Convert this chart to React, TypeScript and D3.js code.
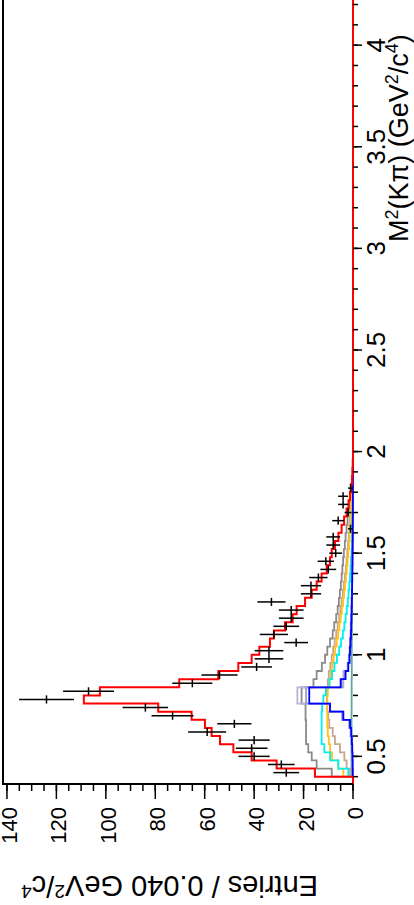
import React from "react";
import * as d3 from "d3";

// Binning of the M^2(K pi) histogram
const M2_LOW = 0.4;
const BIN_W = 0.04;
const N_BINS = 40;

// Data (entries per bin) and their error bars
const dataCounts = [27, 29, 40, 41, 40, 59, 48, 73, 84, 124, 107, 65, 54, 39, 34, 34, 23, 32, 27, 25, 25, 33, 17, 17, 14, 10, 11, 7, 8, 8, 1, 6, 2, 4, 4, 1];
const dataErrors = [5.2, 5.4, 6.3, 6.4, 6.3, 7.7, 6.9, 8.5, 9.2, 11.1, 10.3, 8.1, 7.3, 6.2, 5.8, 5.8, 4.8, 5.7, 5.2, 5.0, 5.0, 5.7, 4.1, 4.1, 3.7, 3.2, 3.3, 2.6, 2.8, 2.8, 1.0, 2.4, 1.4, 2.0, 2.0, 1.0];

// Total fit (red)
const fitTotal = [15.4, 30.9, 41.0, 48.4, 53.8, 57.2, 59.9, 65.3, 78.8, 108.9, 102.4, 70.3, 54.5, 46.4, 41.0, 37.9, 33.6, 32.0, 27.5, 24.4, 22.8, 19.4, 16.7, 14.7, 12.7, 10.6, 9.3, 8.6, 7.3, 5.9, 4.6, 3.6, 2.6, 1.8, 1.2, 0.7, 0.35, 0.15, 0.05, 0.0];

// Fit components
const compGray = [8.6, 14.7, 16.7, 18.1, 19.0, 19.0, 19.0, 19.2, 19.2, 20.8, 20.8, 16.0, 14.7, 12.6, 11.3, 10.4, 9.3, 8.2, 7.6, 6.8, 6.2, 5.7, 5.3, 4.9, 4.6, 4.3, 4.0, 3.7, 3.3, 3.0, 2.6, 2.2, 1.8, 1.5, 1.1, 0.8, 0.5, 0.3, 0.1, 0.0];
const compTan = [1.2, 2.6, 3.5, 5.3, 7.3, 8.2, 9.6, 10.0, 10.4, 10.6, 10.6, 10.2, 9.8, 9.2, 8.6, 8.0, 7.4, 6.8, 6.2, 5.6, 5.1, 4.6, 4.1, 3.7, 3.3, 2.9, 2.6, 2.3, 2.0, 1.7, 1.4, 1.2, 1.0, 0.8, 0.6, 0.4, 0.3, 0.2, 0.1, 0.0];
const compOrange = [3.9, 6.0, 8.5, 9.3, 9.8, 10.2, 10.4, 10.4, 10.4, 10.4, 10.2, 9.6, 9.0, 8.4, 7.8, 7.2, 6.6, 6.0, 5.5, 5.0, 4.5, 4.0, 3.6, 3.2, 2.8, 2.5, 2.2, 1.9, 1.6, 1.4, 1.2, 1.0, 0.8, 0.6, 0.5, 0.35, 0.25, 0.15, 0.05, 0.0];
const compCyan = [1.9, 5.9, 9.3, 11.6, 12.7, 12.7, 12.7, 12.7, 12.5, 12.0, 11.0, 9.5, 8.5, 7.5, 6.5, 5.6, 4.8, 4.1, 3.5, 3.0, 2.5, 2.1, 1.8, 1.5, 1.2, 1.0, 0.8, 0.6, 0.5, 0.4, 0.3, 0.2, 0.15, 0.1, 0.05, 0.03, 0.02, 0.01, 0.0, 0.0];
const compBlue = [0.1, 0.15, 0.2, 0.3, 0.45, 0.7, 1.2, 3.9, 9.3, 17.7, 17.7, 5.0, 3.0, 1.9, 1.4, 1.2, 1.0, 0.8, 0.7, 0.6, 0.5, 0.45, 0.4, 0.35, 0.3, 0.25, 0.2, 0.2, 0.15, 0.1, 0.1, 0.08, 0.06, 0.05, 0.04, 0.03, 0.02, 0.01, 0.01, 0.0];
const compLavA = [0.2, 0.3, 0.4, 0.5, 0.7, 1.0, 1.6, 4.5, 9.3, 22.5, 22.5, 3.9, 3.9, 2.2, 1.7, 1.4, 1.2, 1.0, 0.9, 0.8, 0.7, 0.6, 0.5, 0.45, 0.4, 0.35, 0.3, 0.25, 0.2, 0.15, 0.12, 0.1, 0.08, 0.06, 0.05, 0.04, 0.03, 0.02, 0.01, 0.0];
const compLavB = [0.15, 0.2, 0.3, 0.4, 0.6, 0.85, 1.4, 4.2, 9.3, 19.0, 19.0, 4.5, 3.4, 2.0, 1.5, 1.3, 1.1, 0.9, 0.8, 0.7, 0.6, 0.5, 0.45, 0.4, 0.35, 0.3, 0.25, 0.2, 0.18, 0.12, 0.1, 0.09, 0.07, 0.05, 0.04, 0.03, 0.02, 0.01, 0.01, 0.0];
const compTeal = [0.6, 0.6, 0.6, 0.6, 0.6, 0.6, 0.6, 0.6, 0.55, 0.55, 0.55, 0.55, 0.5, 0.5, 0.5, 0.5, 0.5, 0.45, 0.45, 0.45, 0.4, 0.4, 0.4, 0.4, 0.35, 0.35, 0.35, 0.3, 0.3, 0.3, 0.25, 0.25, 0.2, 0.2, 0.15, 0.15, 0.1, 0.1, 0.05, 0.0];

// Axis ticks
const m2MajorTicks = [0.5, 1, 1.5, 2, 2.5, 3, 3.5, 4];
const m2TickLabels = ["0.5", "1", "1.5", "2", "2.5", "3", "3.5", "4"];
const entryMajorTicks = [0, 20, 40, 60, 80, 100, 120, 140];
const entryTickLabels = ["0", "20", "40", "60", "80", "100", "120", "140"];

const FONT = "'Liberation Sans', Arial, Helvetica, sans-serif";

export default function App() {
  const W = 414;
  const H = 905;
  const M2_MIN = 0.364;
  const M2_MAX = 4.3;
  const Y_MAX = 141.6;

  // M^2 runs up the page, entries run leftwards (rotated ROOT canvas)
  const yM2 = d3.scaleLinear().domain([M2_MIN, M2_MAX]).range([784, 784 - (M2_MAX - M2_MIN) * 203.2]);
  const xN = d3.scaleLinear().domain([0, Y_MAX]).range([353, 3]);

  const edges = d3.range(N_BINS + 1).map((k) => M2_LOW + k * BIN_W);
  const line = d3.line();

  const histPath = (vals: number[], extend: boolean) => {
    const pts: [number, number][] = [];
    if (extend) pts.push([xN(0), yM2(M2_MIN)]);
    pts.push([xN(0), yM2(edges[0])]);
    vals.forEach((v, k) => {
      pts.push([xN(v), yM2(edges[k])]);
      pts.push([xN(v), yM2(edges[k + 1])]);
    });
    pts.push([xN(0), yM2(edges[vals.length])]);
    if (extend) pts.push([xN(0), yM2(M2_MAX)]);
    return line(pts) || "";
  };

  const m2Minor = d3.range(4, 43).map((k) => k / 10);
  const entryMinor = d3.range(0, 29).map((k) => k * 5);

  const components: [number[], string][] = [
    [compTeal, "#5fa8a0"],
    [compGray, "#8a8a8a"],
    [compTan, "#c9a48e"],
    [compOrange, "#ffc21a"],
    [compCyan, "#00f0f0"],
    [compLavA, "#b4b4dc"],
    [compLavB, "#9c9ccc"],
    [compBlue, "#0000ff"],
  ];

  const axisY = 784;
  const axisX = 353;

  return (
    <svg width={W} height={H} style={{ position: "absolute", left: 0, top: 0, background: "#fff" }} fontFamily={FONT}>
      <rect x={0} y={0} width={W} height={H} fill="#fff" />
      {/* components */}
      {components.map(([vals, col], i) => (
        <path key={i} d={histPath(vals, false)} fill="none" stroke={col} strokeWidth={1.8} />
      ))}
      {/* total fit */}
      <path d={histPath(fitTotal, true)} fill="none" stroke="#ff0000" strokeWidth={2} />

      {/* data points */}
      {dataCounts.map((n, k) => {
        const yc = yM2(edges[k] + BIN_W / 2);
        return (
          <g key={k} stroke="#000" strokeWidth={1.5}>
            <line x1={xN(n - dataErrors[k])} x2={xN(n + dataErrors[k])} y1={yc} y2={yc} />
            <line x1={xN(n)} x2={xN(n)} y1={yM2(edges[k])} y2={yM2(edges[k + 1])} />
          </g>
        );
      })}

      {/* frame */}
      <line x1={3} x2={3} y1={-5} y2={axisY} stroke="#000" strokeWidth={2} />
      <line x1={2} x2={axisX} y1={axisY} y2={axisY} stroke="#000" strokeWidth={2} />

      {/* M2 axis ticks */}
      {m2Minor.map((t, i) => (
        <line key={"mm" + i} x1={axisX} x2={axisX + 5} y1={yM2(t)} y2={yM2(t)} stroke="#000" strokeWidth={1.5} />
      ))}
      {m2MajorTicks.map((t, i) => (
        <g key={"mM" + i}>
          <line x1={axisX} x2={axisX + 9} y1={yM2(t)} y2={yM2(t)} stroke="#000" strokeWidth={1.5} />
          <text transform={`translate(385,${yM2(t)}) rotate(-90)`} textAnchor="middle" fontSize={26} fill="#000">
            {m2TickLabels[i]}
          </text>
        </g>
      ))}

      {/* entries axis ticks */}
      {entryMinor.map((t, i) => (
        <line key={"em" + i} x1={xN(t)} x2={xN(t)} y1={axisY} y2={axisY + 7} stroke="#000" strokeWidth={1.5} />
      ))}
      {entryMajorTicks.map((t, i) => (
        <g key={"eM" + i}>
          <line x1={xN(t)} x2={xN(t)} y1={axisY} y2={axisY + 15} stroke="#000" strokeWidth={1.5} />
          <text transform={`translate(${xN(t) + 10},807) rotate(-90)`} textAnchor="end" fontSize={22} fill="#000">
            {entryTickLabels[i]}
          </text>
        </g>
      ))}

      {/* axis titles */}
      <text transform="translate(408,242) rotate(-90)" textAnchor="start" fontSize={27} fill="#000">
        M<tspan dy={-10} fontSize={18}>2</tspan>
        <tspan dy={10}>(Kπ) (GeV</tspan>
        <tspan dy={-10} fontSize={18}>2</tspan>
        <tspan dy={10}>/c</tspan>
        <tspan dy={-10} fontSize={18}>4</tspan>
        <tspan dy={10}>)</tspan>
      </text>
      <text transform="translate(318,876) rotate(180)" textAnchor="start" fontSize={29} fill="#000">
        Entries / 0.040 GeV<tspan dy={-9} fontSize={19}>2</tspan>
        <tspan dy={9}>/c</tspan>
        <tspan dy={-9} fontSize={19}>4</tspan>
      </text>
    </svg>
  );
}
